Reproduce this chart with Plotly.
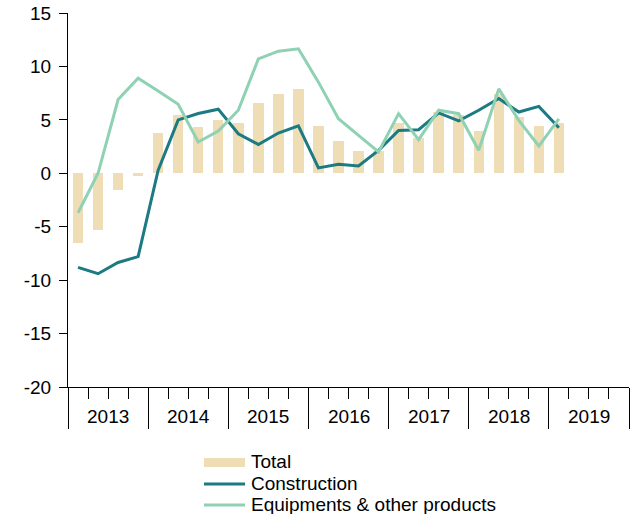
import plotly.graph_objects as go

quarters = list(range(25))  # 2013Q1 .. 2019Q1
years = ["2013", "2014", "2015", "2016", "2017", "2018", "2019"]
y_ticks = [15, 10, 5, 0, -5, -10, -15, -20]
y_tick_labels = ["15", "10", "5", "0", "-5", "-10", "-15", "-20"]

total = [-6.5, -5.3, -1.6, -0.25, 3.8, 5.5, 4.3, 5.0, 4.7, 6.6, 7.45, 7.9,
         4.4, 3.0, 2.1, 2.1, 4.7, 3.3, 5.7, 5.5, 4.0, 7.4, 5.3, 4.4, 4.7]
construction = [-8.8, -9.4, -8.35, -7.8, 0.3, 5.0, 5.6, 6.0, 3.7, 2.7, 3.77, 4.43,
                0.5, 0.84, 0.68, 2.15, 4.0, 4.08, 5.65, 4.9, 5.9, 7.0, 5.73, 6.26, 4.27]
equipment = [-3.7, 0.0, 6.9, 8.9, 7.7, 6.45, 2.93, 3.96, 5.9, 10.7, 11.43, 11.65,
             8.53, 5.11, 3.55, 1.99, 5.58, 3.15, 5.9, 5.58, 2.15, 7.9, 4.95, 2.55, 5.1]

BAR_C = "#EEDDB5"
CON_C = "#1B7A82"
EQ_C = "#8FD1B3"
FONT = "Liberation Sans, Arial, sans-serif"
FS = 19

fig = go.Figure()
fig.add_trace(go.Bar(x=quarters, y=total, width=0.52, marker_color=BAR_C,
                     marker_line_width=0, name="Total", showlegend=False))
fig.add_trace(go.Scatter(x=quarters, y=construction, mode="lines",
                         line=dict(color=CON_C, width=3), name="Construction",
                         showlegend=False))
fig.add_trace(go.Scatter(x=quarters, y=equipment, mode="lines",
                         line=dict(color=EQ_C, width=3),
                         name="Equipments & other products", showlegend=False))

year_bounds = [-0.5 + 4 * i for i in range(len(years) + 1)]
quarter_bounds = [b + q for b in year_bounds[:-1] for q in (1, 2, 3)]

fig.update_layout(
    width=631, height=514,
    margin=dict(l=68, r=2, t=13, b=127),
    plot_bgcolor="white", paper_bgcolor="white",
    font=dict(family=FONT, size=FS, color="black"),
    bargap=0,
    xaxis=dict(
        range=[-0.5, 27.5], showgrid=False, zeroline=False, automargin=False,
        showline=True, linecolor="black", linewidth=1,
        tickmode="array", tickvals=year_bounds, ticktext=[""] * len(year_bounds),
        ticks="outside", ticklen=41, tickcolor="black", tickwidth=1,
        minor=dict(tickmode="array", tickvals=quarter_bounds, ticks="outside",
                   ticklen=11, tickcolor="black", tickwidth=1, showgrid=False),
    ),
    yaxis=dict(
        range=[-20, 15], showgrid=False, zeroline=False, automargin=False,
        tickmode="array", tickvals=y_ticks, ticktext=y_tick_labels,
        showline=True, linecolor="black", linewidth=1,
        ticks="outside", ticklen=8, tickcolor="black", tickwidth=1,
        ticklabelstandoff=4,
        tickfont=dict(size=FS, family=FONT, color="black"),
    ),
    showlegend=False,
)

# year labels
for i, y in enumerate(years):
    fig.add_annotation(x=1.5 + 4 * i, y=-0.08, xref="x", yref="paper",
                       text=y, showarrow=False, yanchor="middle",
                       font=dict(size=FS, family=FONT, color="black"))

# manual legend
H = 374.0
W = 561.0
def px_to_paper_x(px):
    return (px - 68) / W
def px_to_paper_y(py):
    return (387 - py) / H

fig.add_shape(type="rect", xref="paper", yref="paper",
              x0=px_to_paper_x(204), x1=px_to_paper_x(245),
              y0=px_to_paper_y(467), y1=px_to_paper_y(458),
              fillcolor=BAR_C, line_width=0)
fig.add_shape(type="line", xref="paper", yref="paper",
              x0=px_to_paper_x(204), x1=px_to_paper_x(245),
              y0=px_to_paper_y(484), y1=px_to_paper_y(484),
              line=dict(color=CON_C, width=3))
fig.add_shape(type="line", xref="paper", yref="paper",
              x0=px_to_paper_x(204), x1=px_to_paper_x(245),
              y0=px_to_paper_y(505), y1=px_to_paper_y(505),
              line=dict(color=EQ_C, width=3))
for label, py in [("Total", 462), ("Construction", 483.5), ("Equipments & other products", 504.5)]:
    fig.add_annotation(x=px_to_paper_x(249), y=px_to_paper_y(py), xref="paper", yref="paper",
                       text=label, showarrow=False, xanchor="left", yanchor="middle",
                       font=dict(size=FS, family=FONT, color="black"))

fig.write_html("out.html", config={"displayModeBar": False},
               post_script="document.body.style.margin='0';document.body.style.overflow='hidden';")
